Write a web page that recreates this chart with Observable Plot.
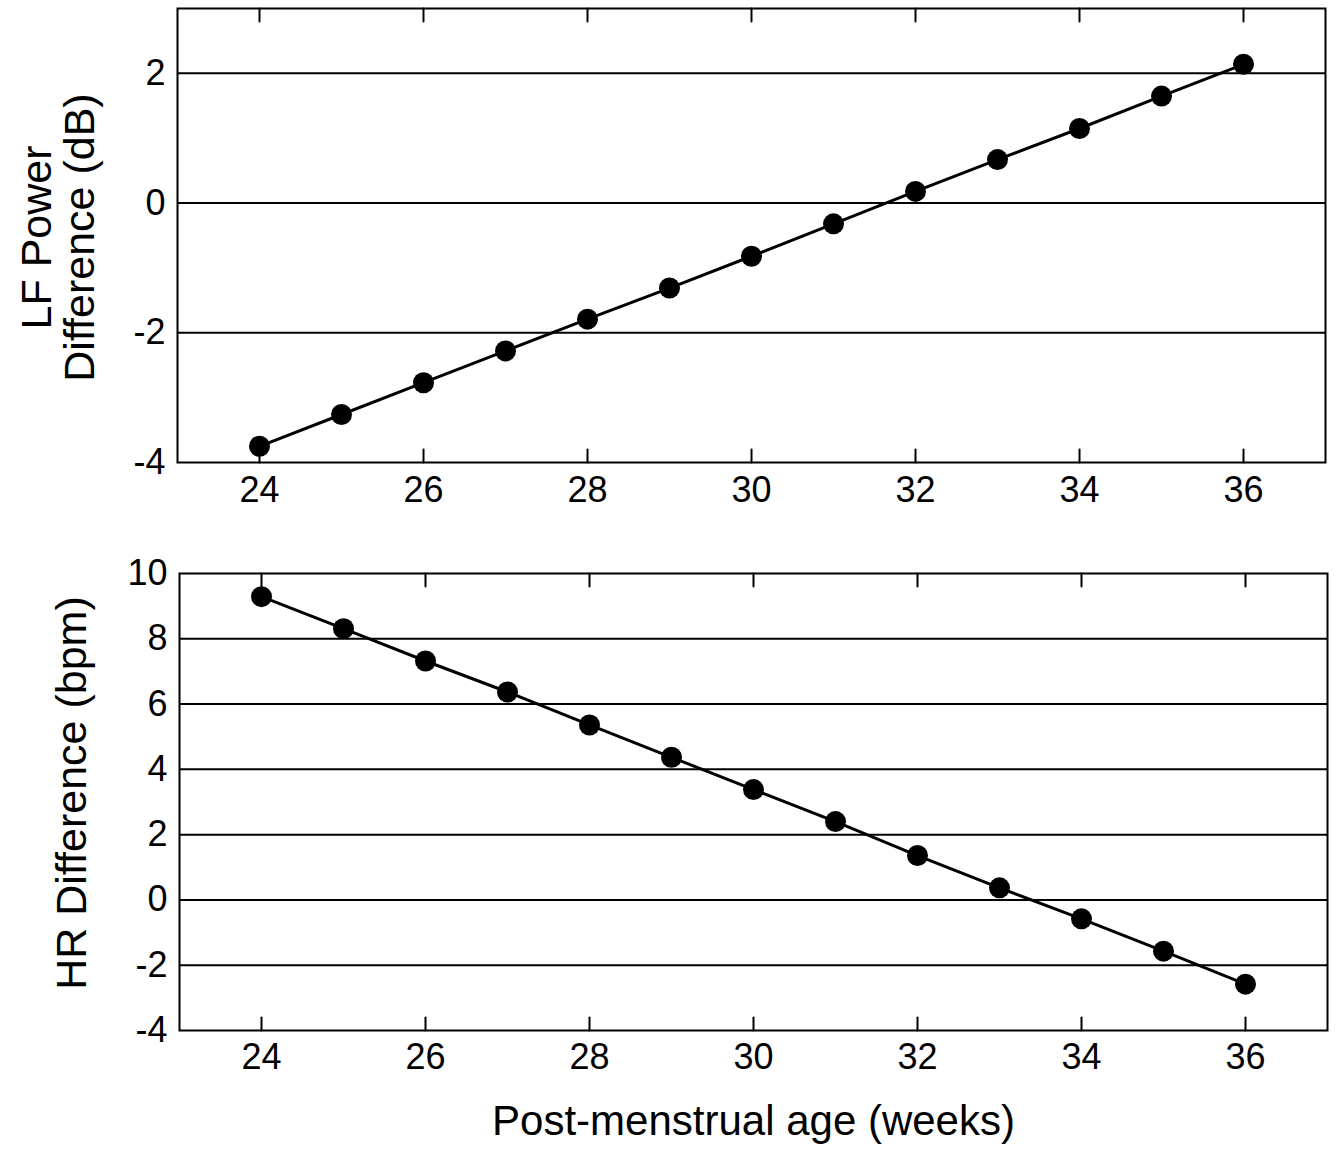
<!DOCTYPE html>
<html><head><meta charset="utf-8">
<script src="https://cdn.jsdelivr.net/npm/d3@7"></script>
<script src="https://cdn.jsdelivr.net/npm/@observablehq/plot@0.6"></script>
<style>body{margin:0;background:#fff} svg{display:block}</style>
</head><body><div id="c"></div><script>
const weeks = [24, 25, 26, 27, 28, 29, 30, 31, 32, 33, 34, 35, 36];
const lfPowerDiff = [-3.75, -3.26, -2.77, -2.28, -1.79, -1.31, -0.82, -0.32, 0.18, 0.67, 1.15, 1.65, 2.14];
const hrDiff = [9.29, 8.31, 7.32, 6.37, 5.36, 4.37, 3.38, 2.40, 1.36, 0.37, -0.58, -1.57, -2.58];
const xTicks = [24, 26, 28, 30, 32, 34, 36];
const lfTicks = [-4, -2, 0, 2];
const lfGrid = [-2, 0, 2];
const hrTicks = [-4, -2, 0, 2, 4, 6, 8, 10];
const hrGrid = [-2, 0, 2, 4, 6, 8];
const lfLabel = "LF Power\nDifference (dB)";
const hrLabel = "HR Difference (bpm)";
const xLabel = "Post-menstrual age (weeks)";

const font = "'Liberation Sans', Arial, Helvetica, sans-serif";
const tickShape = {draw(context, l) { context.moveTo(0, 0); context.lineTo(0, -l); }};

function panel(o) {
  const rows = weeks.map((w, i) => ({w, v: o.values[i]}));
  const marks = [
    Plot.gridY(o.grid, {stroke: "black", strokeOpacity: 1, strokeWidth: 2}),
    Plot.frame({stroke: "black", strokeWidth: 2}),
    Plot.vector(xTicks, {x: d => d, frameAnchor: "bottom", length: 13, anchor: "start", rotate: 0, shape: tickShape, stroke: "black", strokeWidth: 2}),
    Plot.vector(xTicks, {x: d => d, frameAnchor: "top", length: 13, anchor: "start", rotate: 180, shape: tickShape, stroke: "black", strokeWidth: 2}),
    Plot.axisX(xTicks, {tickSize: 0, tickPadding: o.xPad, fontSize: 36, label: null, tickFormat: d => String(d)}),
    Plot.axisY(o.ticks, {tickSize: 0, tickPadding: 12, fontSize: 36, label: null, tickFormat: d => String(d)}),
    Plot.line(rows, {x: "w", y: "v", stroke: "black", strokeWidth: 3}),
    Plot.dot(rows, {x: "w", y: "v", r: 10.5, fill: "black", stroke: "none"}),
    Plot.text([o.ylabel], {frameAnchor: "left", textAnchor: "middle", lineAnchor: "middle", dx: o.labelDx, dy: o.labelDy, rotate: -90, fontSize: 43, lineHeight: 1.0, fill: "black"})
  ];
  if (o.xlabel) marks.push(Plot.text([o.xlabel], {frameAnchor: "bottom", textAnchor: "middle", dy: o.xLabelDy, fontSize: 42, fill: "black"}));
  return Plot.plot({
    width: 1336,
    height: o.height,
    marginTop: o.mt, marginBottom: o.mb, marginLeft: o.ml, marginRight: o.mr,
    style: {fontFamily: font, color: "black", background: "white", overflow: "visible"},
    x: {domain: [23, 37]},
    y: {domain: o.domain},
    marks
  });
}

const c = document.getElementById("c");
c.append(panel({values: lfPowerDiff, domain: [-4, 3], ticks: lfTicks, grid: lfGrid, ylabel: lfLabel,
  height: 535, mt: 8, mb: 73, ml: 177, mr: 11, labelDx: -119, labelDy: 2, xPad: 14}));
c.append(panel({values: hrDiff, domain: [-4, 10], ticks: hrTicks, grid: hrGrid, ylabel: hrLabel,
  height: 616, mt: 38, mb: 121, ml: 179, mr: 9, labelDx: -107, labelDy: -9, xPad: 13, xlabel: xLabel, xLabelDy: 104}));
</script></body></html>
